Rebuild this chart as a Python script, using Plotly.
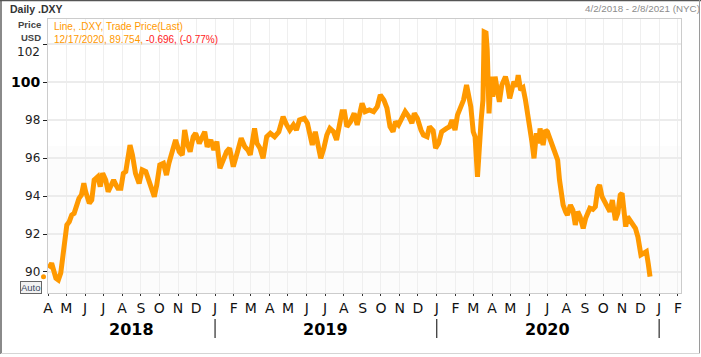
import pandas as pd
import plotly.graph_objects as go

# ---------------- data ----------------
start_date = "2018-04-02"
day_offsets = [0,5,12,16,20,23,27,30,34,38,42,47,50,54,58,61,67,71,75,81,85,89,94,98,102,107,111,114,119,123,
               127,131,134,138,143,149,154,160,165,169,174,178,183,189,194,198,204,209,215,220,224,228,233,238,242,248,253,257,261,267,
               272,277,282,288,293,298,304,311,317,323,328,332,339,343,348,353,359,365,372,379,386,392,397,403,408,413,421,426,430,434,
               439,443,448,453,458,463,469,474,478,483,487,491,497,503,508,512,516,521,528,535,541,546,552,557,562,567,571,576,582,587,
               593,598,602,607,613,617,623,627,633,637,642,647,655,660,664,669,673,678,683,688,691,695,699,702,706,709,712,715,717,720,
               722,725,728,731,735,739,742,746,752,755,759,763,766,770,773,777,781,785,787,790,793,796,799,803,807,809,814,818,821,826,
               830,834,838,841,844,847,851,854,859,863,867,871,875,880,884,887,891,896,900,904,907,911,915,919,924,928,930,933,937,941,
               944,947,950,953,958,962,966,970,973,975,980,984,987,990]
dxy = [90.2,90.46,89.67,89.58,89.95,90.9,91.69,92.48,92.65,93.0,93.09,93.62,93.88,94.06,94.67,94.23,93.62,93.79,94.85,95.02,
       94.5,95.2,94.85,94.23,94.58,94.85,94.58,94.41,94.41,95.2,95.29,96.25,96.69,96.17,95.2,94.67,95.38,95.29,94.85,94.41,
       93.97,94.58,95.64,95.73,95.11,95.73,96.43,96.96,96.34,96.17,97.48,96.78,96.34,97.13,97.31,96.78,97.13,97.39,96.6,96.96,
       96.43,96.87,95.47,95.99,96.34,96.52,95.55,96.34,97.05,96.6,96.43,96.17,97.57,96.78,96.52,95.99,97.13,97.31,97.13,97.39,
       98.18,97.75,97.48,97.75,97.48,98.01,98.1,97.84,97.13,96.69,97.39,96.6,95.99,96.52,97.22,97.57,97.39,96.96,97.75,98.45,
       98.45,97.66,97.92,98.36,97.75,98.27,98.89,98.45,98.54,98.45,98.71,99.33,99.06,98.63,97.66,97.39,97.92,97.75,98.18,98.45,
       98.18,97.84,98.36,98.1,97.48,97.22,97.13,97.66,97.45,96.52,96.78,97.39,97.57,97.66,98.01,97.48,98.27,98.71,99.06,99.85,
       99.33,98.71,97.39,97.13,95.02,97.13,98.01,99.06,102.65,102.6,101.7,98.36,100.29,99.24,100.29,99.5,98.97,99.85,100.29,99.94,
       99.15,99.68,100.03,99.77,100.38,99.59,99.7,99.06,98.71,98.01,97.31,96.78,95.99,97.31,96.78,97.57,96.69,97.48,97.4,96.96,
       96.6,96.34,95.9,94.85,94.15,93.53,93.18,93.0,93.53,93.27,92.48,93.18,92.91,92.3,92.83,93.09,93.36,93.3,93.44,94.41,
       94.58,93.97,93.71,93.53,93.18,93.79,93.09,92.74,93.1,94.06,94.15,93.44,92.39,92.91,92.65,92.48,92.3,91.86,91.33,90.9,
       90.99,91.07,90.46,89.754]

y_ticks = [90, 92, 94, 96, 98, 100, 102]
month_ticks = pd.date_range("2018-04-01", "2021-02-01", freq="MS")
month_letters = {1: "J", 2: "F", 3: "M", 4: "A", 5: "M", 6: "J", 7: "J", 8: "A", 9: "S", 10: "O", 11: "N", 12: "D"}
month_text = [month_letters[d.month] for d in month_ticks]
years = ["2018", "2019", "2020"]
year_centers = ["2018-08-16", "2019-07-02", "2020-07-01"]
year_dividers = ["2019-01-01", "2020-01-01", "2021-01-01"]

dates = pd.to_datetime(start_date) + pd.to_timedelta(day_offsets, unit="D")

# ---------------- geometry helpers ----------------
W, H = 701, 357
ML, MR, MT, MB = 48, 20, 19, 64
PW, PH = W - ML - MR, H - MT - MB

def px(p):
    return (p - ML) / PW

def py(p):
    return (H - MB - p) / PH

ORANGE = "#FF9900"
FONT = "DejaVu Sans"
SMALL = "Liberation Sans"

fig = go.Figure()
fig.add_trace(go.Scatter(x=dates, y=dxy, mode="lines",
                         line=dict(color=ORANGE, width=5), hoverinfo="skip"))

annotations = []
for v in y_ticks:
    if v == 100:
        txt, size, col = "<b>100</b>", 14, "#000"
    else:
        txt, size, col = str(v), 12, "#222"
    annotations.append(dict(x=0, xref="paper", y=v, yref="y", text=txt, showarrow=False,
                            xanchor="right", yanchor="middle", xshift=-6,
                            yshift=-8 if v == 102 else 0,
                            font=dict(family=FONT, size=size, color=col)))
for yr, c in zip(years, year_centers):
    annotations.append(dict(x=c, xref="x", y=py(329), yref="paper", text=f"<b>{yr}</b>",
                            showarrow=False, xanchor="center", yanchor="middle",
                            font=dict(family=FONT, size=16, color="#000")))
annotations += [
    dict(x=px(8), y=py(9), xref="paper", yref="paper", text="<b>Daily .DXY</b>", showarrow=False,
         xanchor="left", yanchor="middle", font=dict(family=SMALL, size=10.5, color="#333")),
    dict(x=px(583), y=py(9), xref="paper", yref="paper", text="4/2/2018 - 2/8/2021 (NYC)", showarrow=False,
         xanchor="left", yanchor="middle", font=dict(family=SMALL, size=9.8, color="#8c8c8c")),
    dict(x=px(43), y=py(25), xref="paper", yref="paper", text="<b>Price</b>", showarrow=False,
         xanchor="right", yanchor="middle", font=dict(family=SMALL, size=9.5, color="#444")),
    dict(x=px(43), y=py(37), xref="paper", yref="paper", text="<b>USD</b>", showarrow=False,
         xanchor="right", yanchor="middle", font=dict(family=SMALL, size=9.5, color="#444")),
    dict(x=px(52), y=py(26), xref="paper", yref="paper", text="Line, .DXY, Trade Price(Last)", showarrow=False,
         xanchor="left", yanchor="middle", font=dict(family=SMALL, size=10, color=ORANGE)),
    dict(x=px(52), y=py(40), xref="paper", yref="paper",
         text="12/17/2020, 89.754, <span style='color:#ff1a1a'>-0.696, (-0.77%)</span>", showarrow=False,
         xanchor="left", yanchor="middle", font=dict(family=SMALL, size=10, color=ORANGE)),
    dict(x=px(30.5), y=py(287.5), xref="paper", yref="paper", text="Auto", showarrow=False,
         xanchor="center", yanchor="middle", font=dict(family=SMALL, size=9.5, color="#3b4a63"),
         bordercolor="#666", borderwidth=1, borderpad=0, bgcolor="#f2f2f2"),
]

shapes = []
shapes.append(dict(type="rect", xref="paper", yref="paper", x0=0, x1=1, y0=0, y1=py(146),
                   fillcolor="#fcfcfc", line=dict(width=0), layer="below"))
for d in year_dividers:
    shapes.append(dict(type="line", xref="x", yref="paper", x0=d, x1=d, y0=py(319), y1=py(338),
                       line=dict(color="#000", width=1)))
shapes.append(dict(type="circle", xref="paper", yref="y", xsizemode="pixel", ysizemode="pixel",
                   xanchor=0, yanchor=dxy[-1], x0=-7, x1=-2, y0=-2.5, y1=2.5,
                   fillcolor=ORANGE, line=dict(color=ORANGE, width=0)))
shapes += [
    dict(type="line", xref="paper", yref="paper", x0=px(1), x1=px(1), y0=py(0), y1=py(354),
         line=dict(color="#8a8a8a", width=2)),
    dict(type="line", xref="paper", yref="paper", x0=px(0), x1=px(701), y0=py(0.5), y1=py(0.5),
         line=dict(color="#555", width=1.5)),
    dict(type="line", xref="paper", yref="paper", x0=px(699.5), x1=px(699.5), y0=py(0), y1=py(354),
         line=dict(color="#9a9a9a", width=1)),
    dict(type="line", xref="paper", yref="paper", x0=px(1), x1=px(700), y0=py(353.5), y1=py(353.5),
         line=dict(color="#d5d5d5", width=1)),
]

fig.update_layout(
    width=W, height=H,
    margin=dict(l=ML, r=MR, t=MT, b=MB, pad=0),
    paper_bgcolor="#ffffff", plot_bgcolor="rgba(0,0,0,0)",
    showlegend=False,
    annotations=annotations, shapes=shapes,
    xaxis=dict(type="date", range=["2018-04-01", "2021-02-06"],
               tickvals=month_ticks, ticktext=month_text,
               tickfont=dict(family=FONT, size=14, color="#111"),
               ticks="outside", ticklen=2, tickcolor="#333", tickwidth=1,
               showgrid=True, gridcolor="#efefef", gridwidth=1,
               showline=True, linecolor="#cccccc", linewidth=1, mirror=True,
               zeroline=False, fixedrange=True),
    yaxis=dict(range=[88.893, 103.333], tickvals=y_ticks, showticklabels=False,
               ticks="outside", ticklen=4, tickcolor="#222", tickwidth=1,
               showgrid=True, gridcolor="#ececec", gridwidth=1.5,
               showline=True, linecolor="#cccccc", linewidth=1, mirror=True,
               zeroline=False, fixedrange=True),
)

fig.write_html("out.html", config={"displayModeBar": False},
               post_script="document.body.style.margin='0';document.body.style.overflow='hidden';")
